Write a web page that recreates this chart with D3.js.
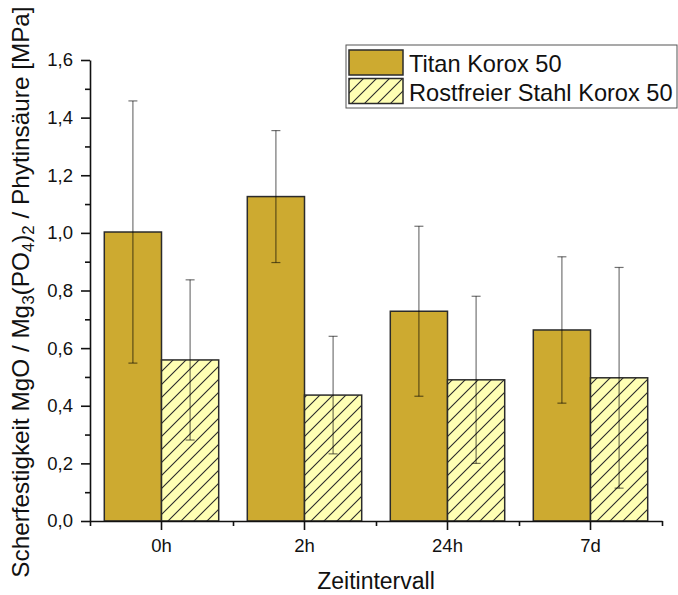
<!DOCTYPE html>
<html>
<head>
<meta charset="utf-8">
<script src="https://cdn.jsdelivr.net/npm/d3@7"></script>
<style>
  body { margin: 0; background: #fff; }
  svg { display: block; font-family: "Liberation Sans", Arial, sans-serif; }
</style>
</head>
<body>
<svg id="chart"></svg>
<script>
// data
const categories = ['0h', '2h', '24h', '7d'];
const seriesNames = ['Titan Korox 50', 'Rostfreier Stahl Korox 50'];
const titan = [1.003, 1.126, 0.728, 0.663];
const titanErr = [0.455, 0.229, 0.295, 0.254];
const stahl = [0.559, 0.437, 0.490, 0.497];
const stahlErr = [0.278, 0.204, 0.290, 0.383];
const yMajor = [0, 0.2, 0.4, 0.6, 0.8, 1.0, 1.2, 1.4, 1.6];
const yMinor = [0.1, 0.3, 0.5, 0.7, 0.9, 1.1, 1.3, 1.5];

const width = 678, height = 595;
const titanColor = '#cdaa30';
const stahlColor = '#ffffb4';
const edge = '#2b2b2b';

const svg = d3.select('#chart')
  .attr('width', width)
  .attr('height', height)
  .attr('viewBox', `0 0 ${width} ${height}`);

// hatch for the steel series
const defs = svg.append('defs');
const pat = defs.append('pattern')
  .attr('id', 'hatch')
  .attr('patternUnits', 'userSpaceOnUse')
  .attr('width', 13).attr('height', 13);
pat.append('rect').attr('width', 13).attr('height', 13).attr('fill', stahlColor);
pat.append('path')
  .attr('d', 'M0,13 L13,0 M-3,3 L3,-3 M10,16 L16,10')
  .attr('stroke', '#2a2a2a')
  .attr('stroke-width', 1.1);

const x = d3.scaleBand().domain(categories).range([90, 662]);
const y = d3.scaleLinear().domain([0, 1.6]).range([521, 60]);
const bw = x.bandwidth() * 0.4;
const fmt = d => d3.format('.1f')(d).replace('.', ',');

const g = svg.append('g');

// bars
const bars = g.append('g');
bars.selectAll('.titan')
  .data(categories)
  .enter().append('rect')
  .attr('class', 'titan')
  .attr('x', d => x(d) + x.bandwidth() / 2 - bw)
  .attr('y', (d, i) => y(titan[i]))
  .attr('width', bw)
  .attr('height', (d, i) => y(0) - y(titan[i]))
  .attr('fill', titanColor)
  .attr('stroke', edge)
  .attr('stroke-width', 1.5);

bars.selectAll('.stahl')
  .data(categories)
  .enter().append('rect')
  .attr('class', 'stahl')
  .attr('x', d => x(d) + x.bandwidth() / 2)
  .attr('y', (d, i) => y(stahl[i]))
  .attr('width', bw)
  .attr('height', (d, i) => y(0) - y(stahl[i]))
  .attr('fill', 'url(#hatch)')
  .attr('stroke', edge)
  .attr('stroke-width', 1.5);

// error bars
function errorBars(vals, errs, offset) {
  const eg = g.append('g')
    .attr('stroke', '#000')
    .attr('stroke-opacity', 0.55)
    .attr('stroke-width', 1.2);
  categories.forEach((c, i) => {
    const cx = x(c) + x.bandwidth() / 2 + offset;
    const top = y(vals[i] + errs[i]), bot = y(vals[i] - errs[i]);
    eg.append('line').attr('x1', cx).attr('x2', cx).attr('y1', top).attr('y2', bot);
    eg.append('line').attr('x1', cx - 4.5).attr('x2', cx + 4.5).attr('y1', top).attr('y2', top);
    eg.append('line').attr('x1', cx - 4.5).attr('x2', cx + 4.5).attr('y1', bot).attr('y2', bot);
  });
}
errorBars(titan, titanErr, -bw / 2);
errorBars(stahl, stahlErr, bw / 2);

// y axis
g.append('g')
  .attr('transform', 'translate(90,0)')
  .call(d3.axisLeft(y).tickValues(yMajor).tickSize(9).tickSizeOuter(0).tickPadding(8).tickFormat(fmt));
g.append('g')
  .attr('transform', 'translate(90,0)')
  .call(d3.axisLeft(y).tickValues(yMinor).tickSize(5).tickSizeOuter(0).tickFormat(''))
  .select('.domain').remove();

// x axis
g.append('g')
  .attr('transform', 'translate(0,521)')
  .call(d3.axisBottom(x).tickSize(9).tickSizeOuter(0).tickPadding(9));
const xEdge = d3.scaleLinear().domain([0, categories.length]).range(x.range());
g.append('g')
  .attr('transform', 'translate(0,521)')
  .call(d3.axisBottom(xEdge).tickValues(d3.range(categories.length + 1)).tickSize(5).tickFormat(''))
  .select('.domain').remove();

g.selectAll('.domain, .tick line')
  .attr('stroke', '#111')
  .attr('stroke-width', 1.6);
g.selectAll('.tick text')
  .attr('font-size', 18.5)
  .attr('fill', '#111')
  .attr('font-family', '"Liberation Sans", Arial, sans-serif');

// axis titles
svg.append('text')
  .attr('x', 376).attr('y', 589)
  .attr('text-anchor', 'middle')
  .attr('font-size', 23)
  .attr('fill', '#111')
  .text('Zeitintervall');

const yt = svg.append('text')
  .attr('transform', 'translate(29,292) rotate(-90)')
  .attr('text-anchor', 'middle')
  .attr('font-size', 24.3)
  .attr('fill', '#111');
yt.append('tspan').text('Scherfestigkeit MgO / Mg');
yt.append('tspan').attr('font-size', 17).attr('dy', 5).text('3');
yt.append('tspan').attr('dy', -5).text('(PO');
yt.append('tspan').attr('font-size', 17).attr('dy', 5).text('4');
yt.append('tspan').attr('dy', -5).text(')');
yt.append('tspan').attr('font-size', 17).attr('dy', 5).text('2');
yt.append('tspan').attr('dy', -5).text(' / Phytinsäure [MPa]');

// legend
const lg = svg.append('g');
lg.append('rect')
  .attr('x', 346).attr('y', 45)
  .attr('width', 331).attr('height', 63)
  .attr('fill', '#fff')
  .attr('stroke', '#555')
  .attr('stroke-width', 1);
const legFills = [titanColor, 'url(#hatch)'];
seriesNames.forEach((name, i) => {
  lg.append('rect')
    .attr('x', 349).attr('y', 50 + i * 28.5)
    .attr('width', 54).attr('height', 25)
    .attr('fill', legFills[i])
    .attr('stroke', edge)
    .attr('stroke-width', 1.5);
  lg.append('text')
    .attr('x', 409).attr('y', 72 + i * 28.5)
    .attr('font-size', 23.6)
    .attr('fill', '#111')
    .text(name);
});
</script>
</body>
</html>
